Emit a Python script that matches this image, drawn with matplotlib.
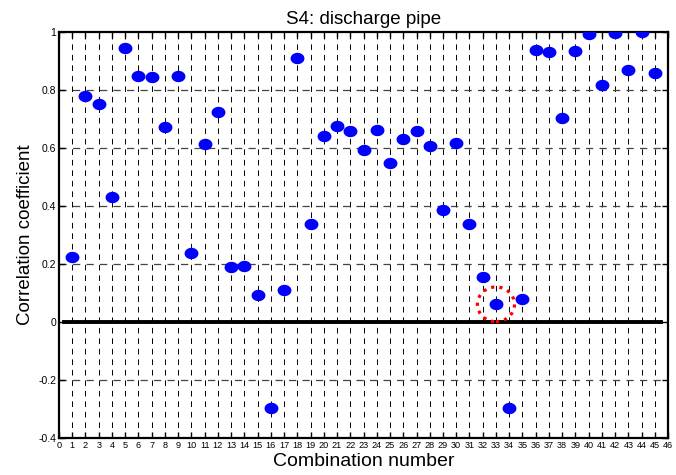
import numpy as np
import matplotlib.pyplot as plt
from matplotlib.patches import Ellipse

plt.rcParams['font.family'] = ['Liberation Sans', 'DejaVu Sans']

# correlation coefficient for each combination
combinacion = np.arange(1, 46)
correlacion = [0.223, 0.779, 0.751, 0.432, 0.946, 0.847, 0.844, 0.673, 0.847, 0.239,
               0.613, 0.723, 0.190, 0.193, 0.093, -0.298, 0.111, 0.910, 0.338, 0.640,
               0.676, 0.660, 0.594, 0.662, 0.548, 0.632, 0.660, 0.607, 0.386, 0.617,
               0.338, 0.155, 0.061, -0.298, 0.078, 0.938, 0.930, 0.704, 0.936, 0.994,
               0.816, 0.997, 0.869, 0.999, 0.859]
marcado = 33  # highlighted combination
xticks = list(range(0, 47))
yticks = [-0.4, -0.2, 0, 0.2, 0.4, 0.6, 0.8, 1]
yticklabels = ['-0.4', '-0.2', '0', '0.2', '0.4', '0.6', '0.8', '1']

fig = plt.figure(figsize=(6.76, 4.75), dpi=100)
ax = fig.add_axes([0.0873, 0.0779, 0.9010, 0.8547])

# elliptical dot (a bit wider than tall)
t = np.linspace(0, 2 * np.pi, 40)
punto = np.column_stack([np.cos(t), 0.82 * np.sin(t)])

guion = (0, (5.8, 5.0))
for x in combinacion:
    ax.axvline(x, color='black', lw=0.7, linestyle=guion, zorder=1)
for y in [-0.2, 0.2, 0.4, 0.6, 0.8]:
    ax.axhline(y, color='#444444', lw=0.9, linestyle=guion, zorder=1)

ax.plot([0.4, 45.5], [0, 0], color='black', lw=2.8, zorder=2)

ax.plot(combinacion, correlacion, linestyle='none', marker=punto, color='blue',
        markersize=10, markeredgewidth=0, zorder=3)

i = marcado - 1
circulo = Ellipse((combinacion[i], correlacion[i]), width=2.8, height=0.12,
                  fill=False, edgecolor='red', lw=2.3, linestyle=(0, (1.0, 1.6)),
                  zorder=4)
ax.add_patch(circulo)

ax.set_xlim(0, 46)
ax.set_ylim(-0.4, 1)
ax.set_xticks(xticks)
ax.set_xticklabels([str(v) for v in xticks], fontsize=6.6)
ax.set_yticks(yticks)
ax.set_yticklabels(yticklabels, fontsize=7.5)
ax.tick_params(direction='in', length=4, width=1, top=True, right=True, pad=2)
for s in ax.spines.values():
    s.set_linewidth(1.6)

ax.set_title('S4: discharge pipe', fontsize=13.5, pad=6)
ax.set_xlabel('Combination number', fontsize=14, labelpad=2)
ax.set_ylabel('Correlation coefficient', fontsize=13.5, labelpad=3)

fig.savefig('out.png', dpi=100)
